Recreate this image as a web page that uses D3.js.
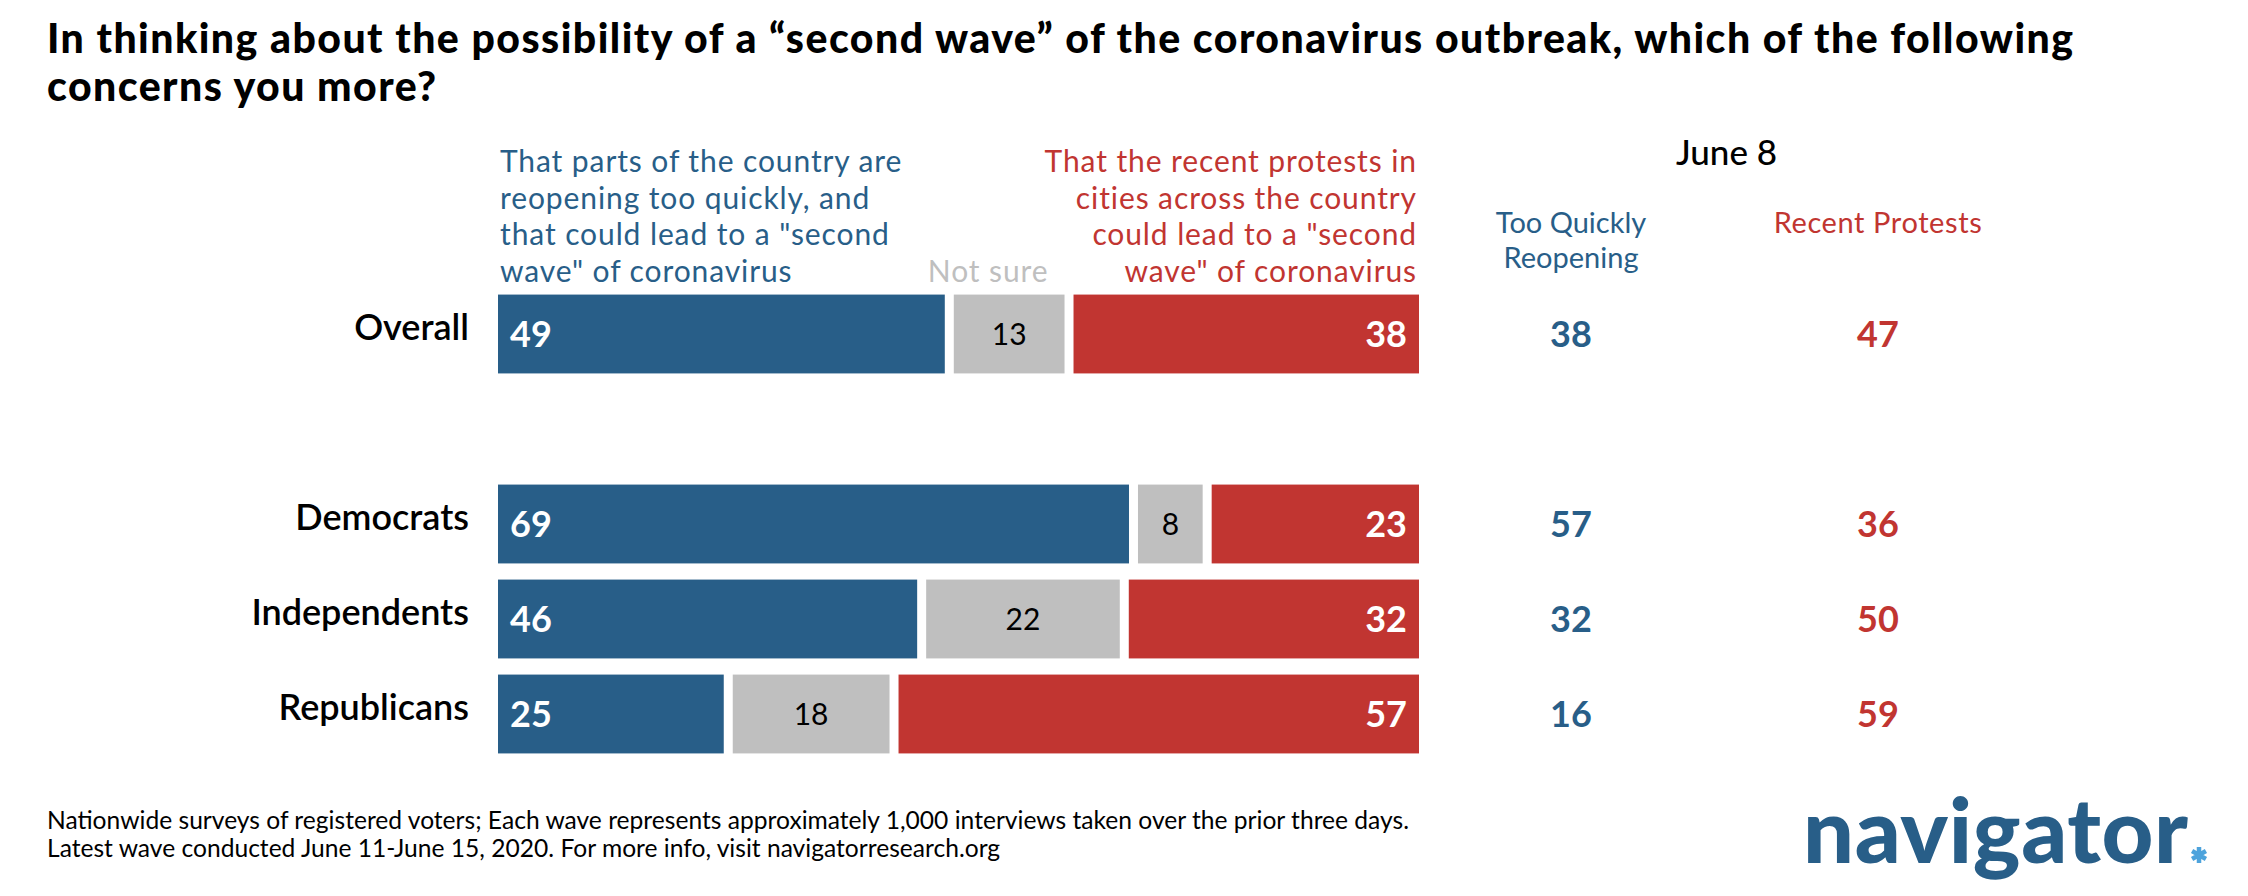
<!DOCTYPE html>
<html>
<head>
<meta charset="utf-8">
<script src="https://cdn.jsdelivr.net/npm/d3@7"></script>
<style>
  html, body { margin: 0; padding: 0; background: #fff; }
  svg { display: block; }
  text { font-family: Lato, "Open Sans", sans-serif; }
</style>
</head>
<body>
<script>
// ---------------- data ----------------
const title = [
  "In thinking about the possibility of a \u201csecond wave\u201d of the coronavirus outbreak, which of the following",
  "concerns you more?"
];
const categories = ["Overall", "Democrats", "Independents", "Republicans"];
const reopeningTooQuickly = [49, 69, 46, 25];
const notSure = [13, 8, 22, 18];
const recentProtests = [38, 23, 32, 57];
const june8Reopening = [38, 57, 32, 16];
const june8Protests = [47, 36, 50, 59];
const legendReopening = ["That parts of the country are", "reopening too quickly, and", "that could lead to a \"second", "wave\" of coronavirus"];
const legendProtests = ["That the recent protests in", "cities across the country", "could lead to a \"second", "wave\" of coronavirus"];
const legendNotSure = "Not sure";
const compareTitle = "June 8";
const compareHeadReopen = ["Too Quickly", "Reopening"];
const compareHeadProtest = ["Recent Protests"];
const footnote = [
  "Nationwide surveys of registered voters; Each wave represents approximately 1,000 interviews taken over the prior three days.",
  "Latest wave conducted June 11-June 15, 2020. For more info, visit navigatorresearch.org"
];
const logoText = "navigator";

// ---------------- style ----------------
const W = 2248, H = 896;
const BLUE = "#285e88", RED = "#c13531", GRAY = "#bfbfbf";

const svg = d3.select("body").append("svg").attr("width", W).attr("height", H);

// stretch text horizontally (via letter-spacing) to a reference width
function fitSpacing(sel, target) {
  const node = sel.node();
  const w = node.getComputedTextLength();
  const n = node.textContent.length;
  if (n > 1) sel.attr("letter-spacing", (target - w) / (n - 1));
}

// title
let titleSpacing = 0;
title.forEach((line, i) => {
  const tl = svg.append("text").attr("x", 47).attr("y", 53 + i * 48)
    .attr("font-weight", 900).attr("font-size", 41).attr("fill", "#000").text(line);
  if (i === 0) { fitSpacing(tl, 2026); titleSpacing = +tl.attr("letter-spacing"); }
  else tl.attr("letter-spacing", titleSpacing);
});

// scales
const rowKeys = [categories[0], "__gap__", ...categories.slice(1)];
const y = d3.scaleBand().domain(rowKeys).range([286.5, 761.5]).paddingInner(0.17).paddingOuter(0.085);
const x = d3.scaleLinear().domain([0, 100]).range([498, 1419]);
const gap = 9;

const rows = categories.map((c, i) => {
  const vals = [reopeningTooQuickly[i], notSure[i], recentProtests[i]];
  let cum = 0;
  const segs = vals.map((v, j) => {
    const s = { key: j, v, start: cum, end: cum + v, cat: c };
    cum += v;
    return s;
  });
  return { cat: c, segs };
});

const colors = [BLUE, GRAY, RED];

const g = svg.append("g");
const rowG = g.selectAll("g.row").data(rows).join("g").attr("class", "row")
  .attr("transform", d => `translate(0,${y(d.cat)})`);

rowG.selectAll("rect").data(d => d.segs).join("rect")
  .attr("x", d => x(d.start) + (d.key > 0 ? gap / 2 : 0))
  .attr("width", d => x(d.end) - x(d.start) - (d.key > 0 ? gap / 2 : 0) - (d.key < 2 ? gap / 2 : 0))
  .attr("y", 0).attr("height", y.bandwidth())
  .attr("fill", d => colors[d.key]);

const bw = y.bandwidth();
rowG.selectAll("text.val").data(d => d.segs).join("text").attr("class", "val")
  .attr("x", d => d.key === 0 ? x(d.start) + 12 : d.key === 2 ? x(d.end) - 12 : (x(d.start) + x(d.end)) / 2)
  .attr("text-anchor", d => d.key === 0 ? "start" : d.key === 2 ? "end" : "middle")
  .attr("y", bw / 2).attr("dy", "0.36em")
  .attr("font-size", d => d.key === 1 ? 30 : 36)
  .attr("font-weight", d => d.key === 1 ? 400 : 700)
  .attr("fill", d => d.key === 1 ? "#000" : "#fff")
  .text(d => d.v);

// category labels
rowG.append("text").attr("x", 469).attr("y", bw / 2).attr("dy", "0.18em")
  .attr("text-anchor", "end").attr("font-size", 36).attr("font-weight", 600).attr("fill", "#000")
  .text(d => d.cat);

// legend headers
const legY = 172, legStep = 36.7;
svg.append("text").attr("fill", BLUE).attr("font-size", 30).attr("letter-spacing", 0.9)
  .selectAll("tspan").data(legendReopening).join("tspan")
  .attr("x", x(0) + 2).attr("y", (d, i) => legY + i * legStep).text(d => d);
svg.append("text").attr("fill", RED).attr("font-size", 30).attr("text-anchor", "end").attr("letter-spacing", 0.9)
  .selectAll("tspan").data(legendProtests).join("tspan")
  .attr("x", x(100) - 2).attr("y", (d, i) => legY + i * legStep).text(d => d);
svg.append("text").attr("fill", GRAY).attr("font-size", 30).attr("text-anchor", "middle").attr("letter-spacing", 0.9)
  .attr("x", x(reopeningTooQuickly[0] + notSure[0] / 2) - 21).attr("y", legY + 3 * legStep)
  .text(legendNotSure);

// comparison columns
const colX = d3.scalePoint().domain(["reopen", "protest"]).range([1571, 1878]);
svg.append("text").attr("x", (colX("reopen") + colX("protest")) / 2 + 2).attr("y", 165)
  .attr("text-anchor", "middle").attr("font-size", 35).attr("font-weight", 500).attr("fill", "#000")
  .text(compareTitle);
svg.append("text").attr("fill", BLUE).attr("font-size", 29).attr("text-anchor", "middle")
  .selectAll("tspan").data(compareHeadReopen).join("tspan")
  .attr("x", colX("reopen")).attr("y", (d, i) => 233 + i * 35).text(d => d);
svg.append("text").attr("fill", RED).attr("font-size", 29).attr("text-anchor", "middle").attr("letter-spacing", 0.6)
  .selectAll("tspan").data(compareHeadProtest).join("tspan")
  .attr("x", colX("protest")).attr("y", (d, i) => 233 + i * 35).text(d => d);

rowG.append("text").attr("x", colX("reopen")).attr("y", bw / 2).attr("dy", "0.36em")
  .attr("text-anchor", "middle").attr("font-size", 36).attr("font-weight", 700).attr("fill", BLUE)
  .text((d, i) => june8Reopening[i]);
rowG.append("text").attr("x", colX("protest")).attr("y", bw / 2).attr("dy", "0.36em")
  .attr("text-anchor", "middle").attr("font-size", 36).attr("font-weight", 700).attr("fill", RED)
  .text((d, i) => june8Protests[i]);

// footnote
svg.append("text").attr("font-size", 24.6).attr("fill", "#000")
  .selectAll("tspan").data(footnote).join("tspan")
  .attr("x", 47).attr("y", (d, i) => 829 + i * 28).text(d => d);

// logo
const logo = svg.append("text").attr("x", 1803).attr("y", 863).attr("font-size", 90).attr("font-weight", 900)
  .attr("fill", "#285e88").text(logoText);
fitSpacing(logo, 385);
svg.append("path").attr("transform", "translate(2199,855)")
  .attr("d", d3.symbol(d3.symbolAsterisk, 180)())
  .attr("stroke", "#4da3dc").attr("stroke-width", 4.5).attr("fill", "none");
</script>
</body>
</html>
